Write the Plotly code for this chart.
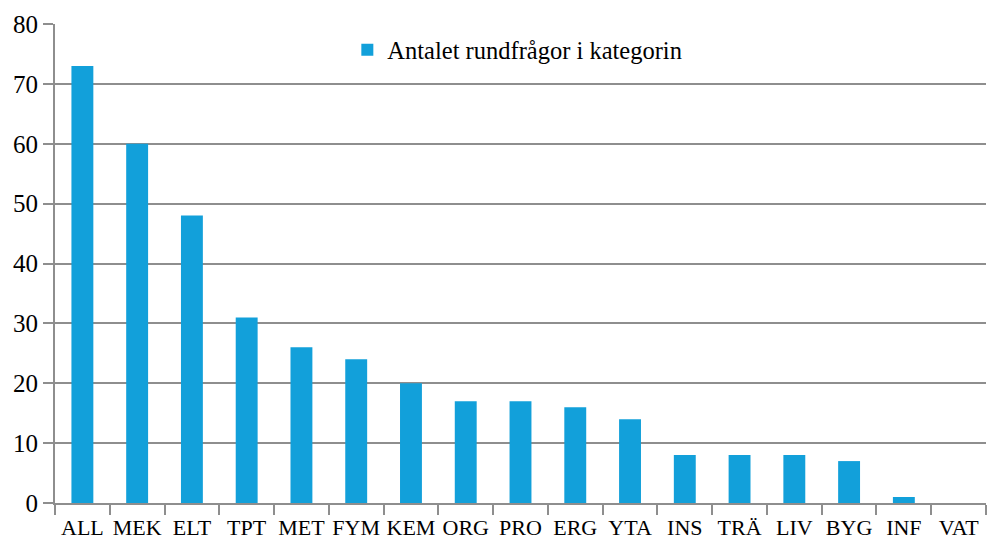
import plotly.graph_objects as go

categories = ["ALL", "MEK", "ELT", "TPT", "MET", "FYM", "KEM", "ORG", "PRO",
              "ERG", "YTA", "INS", "TRÄ", "LIV", "BYG", "INF", "VAT"]
values = [73, 60, 48, 31, 26, 24, 20, 17, 17, 16, 14, 8, 8, 8, 7, 1, 0]
series_name = "Antalet rundfrågor i kategorin"
y_ticks = [0, 10, 20, 30, 40, 50, 60, 70, 80]

FONT = "Liberation Serif, Times New Roman, serif"
GRAY = "#8e8e8e"

fig = go.Figure()
fig.add_trace(go.Bar(x=categories, y=values, name=series_name,
                     marker=dict(color="#12a0da", line=dict(width=0)),
                     width=0.4, showlegend=True))

fig.update_layout(
    width=987, height=542,
    margin=dict(l=55, r=1, t=24, b=39),
    paper_bgcolor="white", plot_bgcolor="white",
    font=dict(family=FONT, color="black", size=22),
    legend=dict(x=0.314, y=0.946, xanchor="left", yanchor="middle",
                font=dict(family=FONT, size=24.5, color="black"),
                bgcolor="rgba(0,0,0,0)", itemwidth=30),
    bargap=0.6,
)
fig.update_xaxes(type="category", showline=True, linecolor=GRAY, linewidth=2,
                 ticks="outside", tickson="boundaries", ticklen=10, tickwidth=2,
                 tickcolor=GRAY, tickangle=0, automargin=False, ticklabelstandoff=4,
                 tickfont=dict(family=FONT, size=22, color="black"), showgrid=False,
                 range=[-0.5, 16.5])
fig.update_yaxes(range=[0, 80], tickvals=y_ticks, showline=True, linecolor=GRAY,
                 linewidth=2, ticks="outside", ticklen=10, tickwidth=2,
                 tickcolor=GRAY, showgrid=True, gridcolor=GRAY, gridwidth=2,
                 automargin=False,
                 tickfont=dict(family=FONT, size=25, color="black"), zeroline=False)

fig.write_html("out.html", config={"displayModeBar": False},
               post_script="document.body.style.margin='0';document.body.style.overflow='hidden';")
